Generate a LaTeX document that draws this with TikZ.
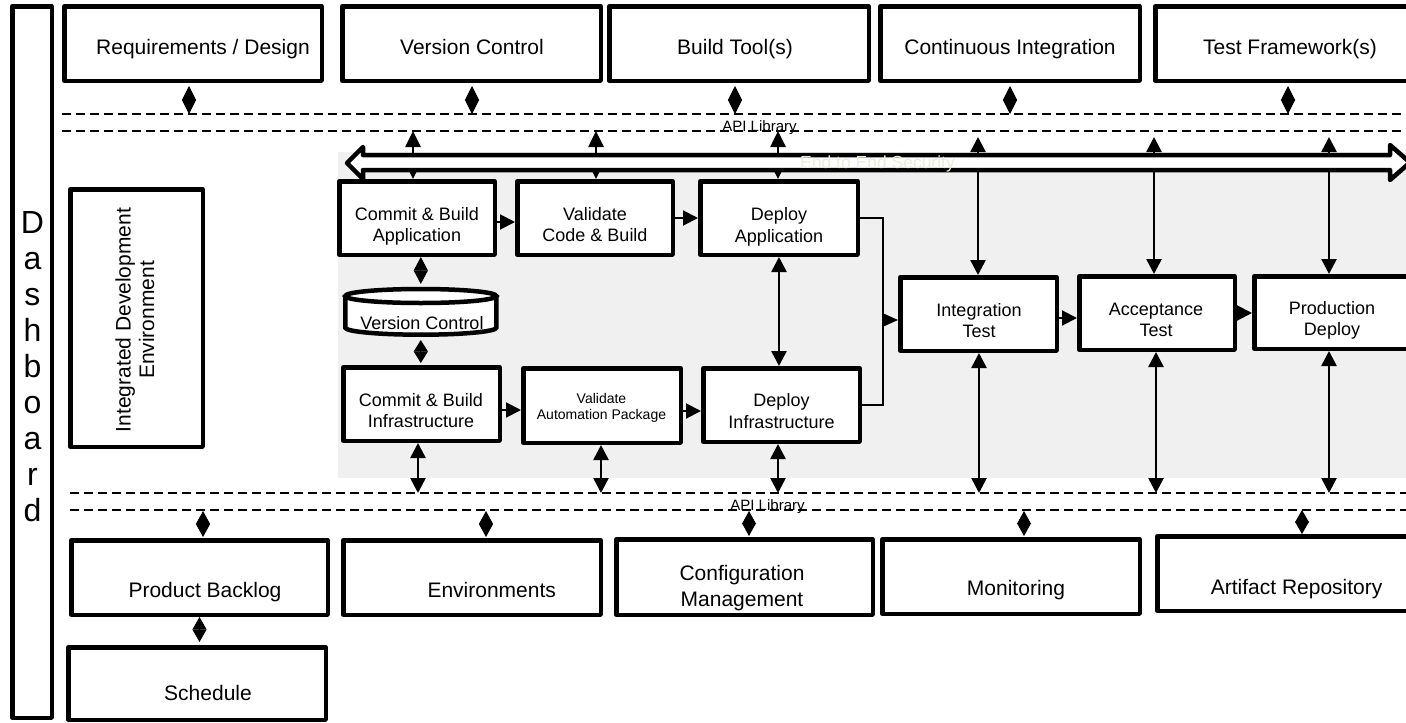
\documentclass[tikz,border=0pt]{standalone}
\usepackage{fontspec}
\setmainfont{Liberation Sans}
\usetikzlibrary{arrows.meta}
\definecolor{panelgray}{RGB}{240,240,240}
\definecolor{faintcream}{RGB}{236,236,218}
\newcommand\twoline[2]{\begin{tabular}[t]{@{}c@{}}#1\\#2\end{tabular}}

\begin{document}
\begin{tikzpicture}[x=1pt,y=-1pt,
  box/.style={draw, line width=4.5pt, line join=round, fill=white, rectangle, inner sep=0pt},
  big/.style={anchor=base, inner sep=0pt, font=\fontsize{21}{26}\selectfont},
  mid/.style={anchor=base, inner sep=0pt, font=\fontsize{18}{21.5}\selectfont},
  small/.style={anchor=base, inner sep=0pt, font=\fontsize{14}{16.5}\selectfont},
  apilbl/.style={anchor=base, inner sep=0pt, font=\fontsize{15}{18}\selectfont},
  api/.style={line width=2pt, dash pattern=on 9pt off 5pt},
  dia/.style={line width=1pt, {Triangle[length=#1,width=14pt]}-{Triangle[length=#1,width=14pt]}},
  dia/.default=13pt,
  flow/.style={line width=2pt, -{Triangle[length=15pt,width=15pt]}},
  link/.style={line width=2.6pt, {Triangle[length=15pt,width=15pt]}-{Triangle[length=15pt,width=15pt]}},
  wire/.style={line width=1.8pt},
]
\useasboundingbox (0,0) rectangle (1406,723);
\clip (0,0) rectangle (1406,723);

% shaded pipeline area
\fill[panelgray] (338,152) rectangle (1406,478);

% API library buses
\draw[api] (62,114) -- (1406,114);
\draw[api] (62,131) -- (1406,131);
\draw[api] (70,493) -- (1406,493);
\draw[api] (70,510) -- (1406,510);
\node[apilbl] (apitop) at (759.5,131) {API Library};
\node[apilbl] (apibot) at (767.5,510) {API Library};

% junctions on the buses
\coordinate (d1) at (189,114);
\coordinate (d2) at (472,114);
\coordinate (d3) at (735,114);
\coordinate (d4) at (1010,114);
\coordinate (d5) at (1288,114);
\coordinate (u1) at (413,131);
\coordinate (u2) at (596,131);
\coordinate (u3) at (778,131);
\coordinate (u4) at (978,131);
\coordinate (u5) at (1154,131);
\coordinate (u6) at (1329,131);
\coordinate (l1) at (418,493);
\coordinate (l2) at (601,493);
\coordinate (l3) at (778,493);
\coordinate (l4) at (979,493);
\coordinate (l5) at (1156,493);
\coordinate (l6) at (1329,493);
\coordinate (b1) at (203,510);
\coordinate (b2) at (486,510);
\coordinate (b3) at (749,510);
\coordinate (b4) at (1024,510);
\coordinate (b5) at (1302,510);

% dashboard column
\node[box, minimum width=39.5, minimum height=711.5] (dash) at (32,362) {};
\node[anchor=base, inner sep=0pt, font=\fontsize{32}{36}\selectfont] (dasht) at (32.5,233)
  {\begin{tabular}[t]{@{}c@{}}D\\a\\s\\h\\b\\o\\a\\r\\d\end{tabular}};

% top tool row
\node[box, minimum width=257.5, minimum height=74.5] (req) at (193,43.5) {};
\node[box, minimum width=258.5, minimum height=74.5] (vcs) at (471.5,43.5) {};
\node[box, minimum width=259.5, minimum height=74.5] (bld) at (739,43.5) {};
\node[box, minimum width=259.5, minimum height=74.5] (ci) at (1010,43.5) {};
\node[box, minimum width=259.5, minimum height=74.5] (tfw) at (1285,43.5) {};
\node[big] (reqt) at (203,54) {Requirements / Design};
\node[big] (vcst) at (472,54) {Version Control};
\node[big] (bldt) at (735,54) {Build Tool(s)};
\node[big] (cit) at (1010,54) {Continuous Integration};
\node[big] (tfwt) at (1290,54) {Test Framework(s)};

% IDE
\node[box, minimum width=132.5, minimum height=257.5] (ide) at (136.5,318) {};
\node[anchor=base, inner sep=0pt, rotate=90, font=\fontsize{21}{23.5}\selectfont] (idet) at (130.5,320)
  {\twoline{Integrated Development}{Environment}};

% application lane
\node[box, minimum width=155.5, minimum height=73.5] (cba) at (417,218) {};
\node[box, minimum width=155.5, minimum height=73.5] (vcb) at (595,218) {};
\node[box, minimum width=157.5, minimum height=73.5] (dap) at (779,218) {};
\node[mid] (cbat) at (417,220) {\twoline{Commit \& Build}{Application}};
\node[mid] (vcbt) at (595,220) {\twoline{Validate}{Code \& Build}};
\node[mid] (dapt) at (779,220.5) {\twoline{Deploy}{Application}};

% version control store
\node[minimum width=155, minimum height=50, inner sep=0pt, outer sep=0pt] (vcdb) at (420.8,312) {};
\draw[line width=4.5pt, fill=white] (345.3,296) -- (345.3,327.7)
  arc[start angle=180, end angle=360, x radius=75.5pt, y radius=7pt] -- (496.3,296);
\draw[line width=4.5pt, fill=white] (420.8,296) ellipse [x radius=75.5pt, y radius=7pt];
\node[mid] (vcdbt) at (422,329) {Version Control};

% infrastructure lane
\node[box, minimum width=156.5, minimum height=73.5] (cbi) at (421.5,404) {};
\node[box, minimum width=157.5, minimum height=74.5] (vap) at (602,405.5) {};
\node[box, minimum width=156.5, minimum height=73.5] (dpi) at (781.5,405) {};
\node[mid] (cbit) at (421,406) {\twoline{Commit \& Build}{Infrastructure}};
\node[small] (vapt) at (601.5,403) {\twoline{Validate}{Automation Package}};
\node[mid] (dpit) at (781.5,406.5) {\twoline{Deploy}{Infrastructure}};

% release stages
\node[box, minimum width=156.5, minimum height=73.5] (intg) at (978.5,314) {};
\node[box, minimum width=155.5, minimum height=73.5] (acc) at (1157,313) {};
\node[box, minimum width=155.5, minimum height=72.5] (prd) at (1332,312.5) {};
\node[mid] (intgt) at (979,316) {\twoline{Integration}{Test}};
\node[mid] (acct) at (1156,315) {\twoline{Acceptance}{Test}};
\node[mid] (prdt) at (1332,314) {\twoline{Production}{Deploy}};

% bottom service row
\node[box, minimum width=256.5, minimum height=74.5] (pb) at (199.5,577.5) {};
\node[box, minimum width=257.5, minimum height=74.5] (env) at (472,577.5) {};
\node[box, minimum width=256.5, minimum height=75.5] (cfg) at (744.5,577) {};
\node[box, minimum width=257.5, minimum height=74.5] (mon) at (1011,576.5) {};
\node[box, minimum width=257.5, minimum height=74.5] (art) at (1286,573.5) {};
\node[box, minimum width=257.5, minimum height=72.5] (sch) at (197,683.5) {};
\node[big] (pbt) at (205,597) {Product Backlog};
\node[big] (envt) at (491.7,597) {Environments};
\node[big] (cfgt) at (742,580) {\twoline{Configuration}{Management}};
\node[big] (mont) at (1016,595) {Monitoring};
\node[big] (artt) at (1296.6,594) {Artifact Repository};
\node[big] (scht) at (208,700.7) {Schedule};

% tool row to upper bus
\draw[dia=14pt, shorten <=3pt] (req.south -| d1) -- (d1);
\draw[dia=14pt, shorten <=3pt] (vcs.south -| d2) -- (d2);
\draw[dia=14pt, shorten <=3pt] (bld.south -| d3) -- (d3);
\draw[dia=14pt, shorten <=3pt] (ci.south -| d4) -- (d4);
\draw[dia=14pt, shorten <=3pt] (tfw.south -| d5) -- (d5);

% lower bus to services
\draw[dia=13pt, shorten <=1pt, shorten >=1pt] (b1) -- (pb.north -| b1);
\draw[dia=13pt, shorten <=1pt, shorten >=1pt] (b2) -- (env.north -| b2);
\draw[dia=13pt, shorten <=1pt, shorten >=1pt] (b3) -- (cfg.north -| b3);
\draw[dia=13pt, shorten <=1pt, shorten >=1pt] (b4) -- (mon.north -| b4);
\draw[dia=12.5pt] (b5) -- (art.north -| b5);
\draw[dia=12.5pt, shorten >=3pt] (pb.south) -- (pb.south |- sch.north);

% version control store links
\draw[dia=13.5pt, shorten >=3pt] (vcdb.north |- cba.south) -- (vcdb.north);
\draw[dia=11.5pt, shorten <=3pt, shorten >=2pt] (vcdb.south) -- (vcdb.south |- cbi.north);

% flow between stages
\draw[flow] ([yshift=-4pt]cba.east) -- ([yshift=-4pt]cba.east -| vcb.west);
\draw[flow] (vcb.east) -- (vcb.east -| dap.west);
\draw[flow] ([yshift=-6pt]cbi.east) -- ([yshift=-6pt]cbi.east -| vap.west);
\draw[flow] ([yshift=-5.5pt]vap.east) -- ([yshift=-5.5pt]vap.east -| dpi.west);
\draw[flow] ([yshift=-4pt]intg.east) -- ([yshift=-4pt]intg.east -| acc.west);
\draw[flow] (acc.east) -- (acc.east -| prd.west);

% merge of both deployments into integration
\coordinate (jn) at (883,320);
\draw[wire] (dap.east) -| (jn) |- (dpi.east);
\draw[wire, -{Triangle[length=15pt,width=13pt]}] (jn) -- (jn -| intg.west);
\draw[link] (dap.south) -- (dap.south |- dpi.north);

% stages to lower bus
\draw[link] (cbi.south -| l1) -- (l1);
\draw[link] (vap.south -| l2) -- (l2);
\draw[link] (dpi.south -| l3) -- (l3);
\draw[link] (intg.south -| l4) -- (l4);
\draw[link] (acc.south -| l5) -- (l5);
\draw[link] (prd.south -| l6) -- (l6);

% upper bus to stages (passing under the security band)
\draw[link, {Triangle[length=16pt,width=15pt]}-{Triangle[length=16pt,width=15pt]}] (u1) -- (cba.north -| u1);
\draw[link, {Triangle[length=16pt,width=15pt]}-{Triangle[length=16pt,width=15pt]}] (u2) -- (vcb.north -| u2);
\draw[link, {Triangle[length=16pt,width=15pt]}-{Triangle[length=16pt,width=15pt]}] (u3) -- (dap.north -| u3);
\draw[link, shorten <=6pt] (u4) -- (intg.north -| u4);
\draw[link, shorten <=6pt] (u5) -- (acc.north -| u5);
\draw[link, shorten <=6pt] (u6) -- (prd.north -| u6);

% end to end security band
\draw[line width=4.5pt, line join=round, fill=white]
  (347,163) -- (363,147) -- (363,155) -- (1390,155) -- (1390,145) -- (1410,162.5)
  -- (1390,180) -- (1390,170) -- (363,170) -- (363,179) -- cycle;
\node[anchor=base, inner sep=0pt, text=faintcream, font=\fontsize{17.5}{20}\selectfont] (sec) at (877.5,168) {End to End Security};
\end{tikzpicture}
\end{document}
